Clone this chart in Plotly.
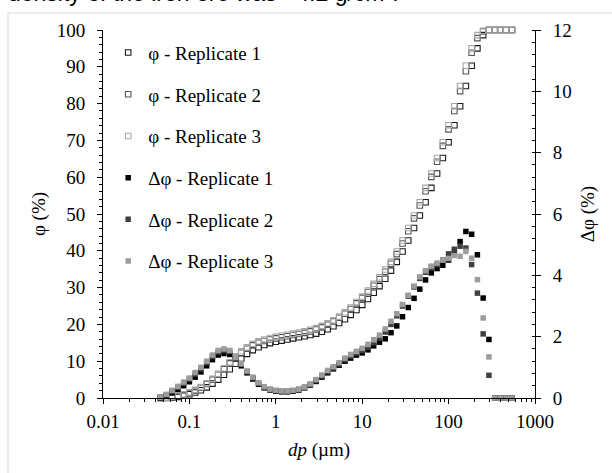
import plotly.graph_objects as go

# Particle size bins (µm)
dp_um = [0.0464, 0.0541, 0.0631, 0.0736, 0.0858, 0.1000, 0.1166, 0.1359, 0.1585, 0.1848,
         0.2154, 0.2512, 0.2929, 0.3415, 0.3981, 0.4642, 0.5412, 0.6310, 0.7356, 0.8577,
         1.000, 1.166, 1.359, 1.585, 1.848, 2.154, 2.512, 2.929, 3.415, 3.981,
         4.642, 5.412, 6.310, 7.356, 8.577, 10.00, 11.66, 13.59, 15.85, 18.48,
         21.54, 25.12, 29.29, 34.15, 39.81, 46.42, 54.12, 63.10, 73.56, 85.77,
         100.0, 116.6, 135.9, 158.5, 184.8, 215.4, 251.2, 292.9, 341.5, 398.1,
         464.2, 541.2]

# Cumulative undersize phi (%)
phi_rep1 = [0.0, 0.0, 0.1, 0.3, 0.6, 1.0, 1.5, 2.1, 2.9, 3.9, 5.0, 6.3, 7.8, 9.3, 10.7, 12.0, 13.0, 13.8, 14.4, 14.9,
            15.3, 15.6, 15.9, 16.2, 16.5, 16.8, 17.1, 17.5, 18.0, 18.7, 19.5, 20.4, 21.4, 22.6, 23.9,
            25.3, 26.9, 28.6, 30.4, 32.4, 34.6, 37.0, 39.8, 42.8, 46.2, 49.6, 53.2, 57.1, 61.0, 65.2, 69.5,
            74.1, 79.3, 84.8, 90.3, 95.0, 98.6,
            100, 100, 100, 100, 100]
phi_rep2 = [0.0, 0.1, 0.2, 0.5, 0.9, 1.4, 2.0, 2.8, 3.8, 5.0, 6.3, 7.8, 9.4, 10.9, 12.3, 13.4, 14.3, 15.0, 15.5, 15.9,
            16.2, 16.5, 16.8, 17.1, 17.4, 17.7, 18.1, 18.6, 19.2, 19.9, 20.8, 21.8, 22.9, 24.2, 25.7,
            27.2, 28.8, 30.5, 32.3, 34.3, 36.5, 39.1, 42.0, 45.3, 48.8, 52.3, 56.2, 60.1, 64.2, 68.5, 73.0,
            78.0, 83.4, 88.8, 93.8, 97.8, 99.6,
            100, 100, 100, 100, 100]
phi_rep3 = [0.0, 0.1, 0.3, 0.6, 1.0, 1.5, 2.2, 3.0, 4.0, 5.2, 6.6, 8.1, 9.7, 11.3, 12.7, 13.8, 14.7, 15.4, 15.9, 16.3,
            16.6, 16.9, 17.2, 17.5, 17.8, 18.1, 18.5, 19.0, 19.6, 20.3, 21.1, 22.1, 23.3, 24.6, 26.1,
            27.6, 29.2, 31.0, 32.8, 34.9, 37.0, 39.8, 42.8, 46.2, 49.6, 53.2, 57.1, 61.0, 65.2, 69.5, 74.1,
            79.3, 84.8, 90.3, 95.0, 98.6, 99.8,
            100, 100, 100, 100, 100]

# Differential volume Δphi (%)
dphi_rep1 = [0.00, 0.07, 0.17, 0.28, 0.40, 0.53, 0.68, 0.85, 1.05, 1.25, 1.40, 1.45, 1.42, 1.28, 1.05, 0.82, 0.62, 0.45, 0.33, 0.26,
             0.22, 0.20, 0.20, 0.22, 0.26, 0.33, 0.42, 0.54, 0.68, 0.82, 0.95, 1.07, 1.20, 1.30, 1.40,
             1.47, 1.57, 1.70, 1.82, 1.93, 2.13, 2.35, 2.65, 2.95, 3.25, 3.55, 3.85, 4.08, 4.22, 4.33, 4.50,
             4.75, 5.10, 5.43, 5.34, 4.67, 3.26, 1.91,
             0, 0, 0, 0]
dphi_rep2 = [0.02, 0.10, 0.22, 0.35, 0.48, 0.62, 0.78, 0.95, 1.15, 1.35, 1.50, 1.56, 1.52, 1.30, 1.10, 0.86, 0.66, 0.48, 0.36, 0.28,
             0.24, 0.22, 0.22, 0.24, 0.28, 0.35, 0.44, 0.57, 0.72, 0.86, 0.98, 1.11, 1.25, 1.37, 1.47,
             1.55, 1.66, 1.80, 1.95, 2.15, 2.40, 2.68, 3.00, 3.32, 3.62, 3.90, 4.10, 4.25, 4.35, 4.50, 4.70,
             4.85, 4.95, 4.89, 4.35, 3.42, 2.09, 0.74,
             0, 0, 0, 0]
dphi_rep3 = [0.02, 0.12, 0.25, 0.38, 0.52, 0.65, 0.83, 1.00, 1.20, 1.40, 1.55, 1.60, 1.55, 1.32, 1.12, 0.88, 0.68, 0.50, 0.37, 0.29,
             0.25, 0.23, 0.23, 0.25, 0.29, 0.36, 0.46, 0.60, 0.75, 0.90, 1.02, 1.15, 1.30, 1.42, 1.52,
             1.62, 1.75, 1.90, 2.05, 2.25, 2.50, 2.75, 3.05, 3.35, 3.65, 3.95, 4.15, 4.30, 4.40, 4.50, 4.55,
             4.65, 4.62, 4.78, 4.56, 3.86, 2.61, 1.34,
             0, 0, 0, 0]

x_ticks = [0.01, 0.1, 1, 10, 100, 1000]
x_ticktext = ["0.01", "0.1", "1", "10", "100", "1000"]
x_minor = [m * 10.0 ** e for e in range(-2, 3) for m in range(2, 10)]

SERIF = "Liberation Serif"
fig = go.Figure()

phi_series = [("φ - Replicate 1", phi_rep1, "#1a1a1a"),
              ("φ - Replicate 2", phi_rep2, "#555555"),
              ("φ - Replicate 3", phi_rep3, "#a6a6a6")]
dphi_series = [("Δφ - Replicate 1", dphi_rep1, "#000000"),
               ("Δφ - Replicate 2", dphi_rep2, "#404040"),
               ("Δφ - Replicate 3", dphi_rep3, "#9c9c9c")]

for i, (name, vals, col) in enumerate(phi_series):
    fig.add_trace(go.Scatter(x=dp_um, y=vals, name=name, mode="markers", yaxis="y",
                             legendgroup="g%d" % i, cliponaxis=False,
                             marker=dict(symbol="square-open", size=5.5, color=col,
                                         line=dict(width=1.1, color=col))))
for i, (name, vals, col) in enumerate(dphi_series):
    fig.add_trace(go.Scatter(x=dp_um, y=vals, name=name, mode="markers", yaxis="y2",
                             legendgroup="h%d" % i, cliponaxis=False,
                             marker=dict(symbol="square", size=5.5, color=col,
                                         line=dict(width=0))))

axis_common = dict(showline=True, linecolor="black", linewidth=1, showgrid=False,
                   zeroline=False, tickcolor="black", tickfont=dict(family=SERIF, size=19, color="black"))

fig.update_layout(
    width=612, height=473,
    margin=dict(l=103, r=77, t=30, b=75),
    paper_bgcolor="white", plot_bgcolor="white",
    font=dict(family=SERIF, size=19, color="black"),
    showlegend=True,
    legend=dict(x=0.012, y=0.99, xanchor="left", yanchor="top",
                bgcolor="rgba(0,0,0,0)", font=dict(family=SERIF, size=19, color="black"),
                tracegroupgap=14, itemsizing="trace"),
    xaxis=dict(type="log", range=[-2, 3], tickvals=x_ticks, ticktext=x_ticktext,
               ticks="outside", ticklen=5, ticklabelstandoff=1,
               minor=dict(tickvals=x_minor, ticks="outside", ticklen=3, tickcolor="black"),
               title=dict(text="<i>dp</i> (µm)", font=dict(family=SERIF, size=19, color="black"),
                          standoff=11),
               **axis_common),
    yaxis=dict(range=[0, 100], dtick=10, ticks="outside", ticklen=5, ticklabelstandoff=8,
               minor=dict(dtick=2, ticks="outside", ticklen=3, tickcolor="black"),
               title=dict(text="φ (%)", font=dict(family=SERIF, size=19, color="black"), standoff=6),
               **axis_common),
    yaxis2=dict(range=[0, 12], dtick=2, overlaying="y", side="right", anchor="x",
                ticks="outside", ticklen=5, ticklabelstandoff=8,
                minor=dict(dtick=0.4, ticks="inside", ticklen=3, tickcolor="black"),
                title=dict(text="Δφ (%)", font=dict(family=SERIF, size=19, color="black"), standoff=9),
                **axis_common),
)

# chart-area frame (light grey), partly outside the visible page
fig.add_shape(type="rect", xref="paper", yref="paper",
              x0=(8 - 103) / 432, x1=(640 - 103) / 432,
              y0=(398 - 500) / 368, y1=(398 - 13) / 368,
              line=dict(color="#d9d9d9", width=1), fillcolor="rgba(0,0,0,0)", layer="below")

# cut-off document text above the chart (the reference shows only its lower part)
fig.add_annotation(text="density of the iron ore was ~4.2 g/cm³.", xref="paper", yref="paper",
                   x=(6 - 103) / 432, y=(398 - 8) / 368, xanchor="left", yanchor="bottom",
                   showarrow=False, font=dict(family="Liberation Sans", size=23, color="black"))

fig.write_html("out.html")
